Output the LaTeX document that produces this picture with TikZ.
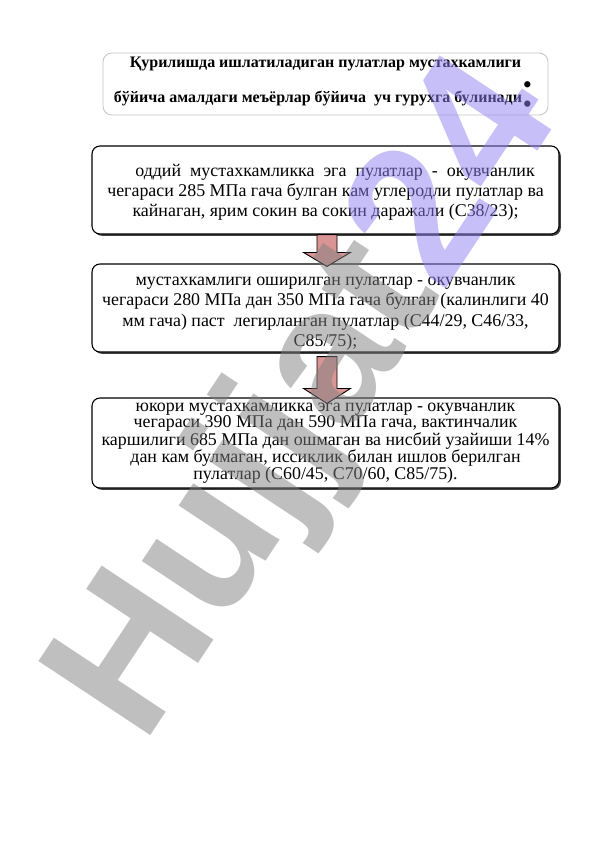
\documentclass[tikz,border=0pt]{standalone}
\usepackage{fontspec}
\setmainfont{Liberation Serif}
\newfontfamily\wmfont{Liberation Sans}
\usetikzlibrary{shadows,calc}
\definecolor{arrowfill}{HTML}{D99594}
\definecolor{wmgray}{HTML}{808080}
\definecolor{wmpurple}{HTML}{9182F2}
\definecolor{titleborder}{HTML}{C4C4C4}
\tikzset{
  titlebox/.style={draw=titleborder, line width=0.8pt, rounded corners=9pt, fill=white,
    minimum width=445pt, minimum height=62pt, inner sep=0pt, align=center,
    font=\bfseries\fontsize{16}{35}\selectfont},
  bigcolon/.style={inner sep=0pt, font=\fontsize{53}{53}\selectfont},
  stepbox/.style={draw=black, line width=1.1pt, rounded corners=8pt, fill=white,
    minimum width=467pt, inner sep=0pt, align=center,
    drop shadow={shadow xshift=1.8pt, shadow yshift=-1.8pt, fill=black!75, opacity=1}},
  boxfont/.style={font=\fontsize{17.9}{19.6}\selectfont},
  widefont/.style={font=\fontsize{17.9}{20.2}\selectfont},
  tightfont/.style={font=\fontsize{17.9}{16.3}\selectfont},
  blockarrow/.style={draw=black, line width=0.9pt, fill=arrowfill, line join=miter},
  watermark/.style={font=\wmfont\bfseries\fontsize{195}{195}\selectfont, inner sep=0pt,
    rotate=56.5, text opacity=0.5}
}
\newcommand{\wsp}{\hspace{9pt}}
\begin{document}
\begin{tikzpicture}[x=1pt,y=1pt]
\useasboundingbox (0,0) rectangle (596,-842);
\fill[white] (0,0) rectangle (596,-842);

\node[titlebox] (title) at (325.5,-84) {Қурилишда ишлатиладиган пулатлар мустахкамлиги\\
бўйича амалдаги меъёрлар бўйича\ \ уч гурухга булинади\hspace*{15pt}\rule[-9pt]{0pt}{9pt}};
\node[bigcolon] (colon) at (528,-94.5) {:};

\node[stepbox, boxfont, minimum height=88pt] (b1) at (325.5,-190)
{\rule{0pt}{17pt}\hspace*{19pt}оддий\wsp мустахкамликка\wsp эга\wsp пулатлар\wsp -\wsp окувчанлик\\
чегараси 285 МПа гача булган кам углеродли пулатлар ва\\
кайнаган, ярим сокин ва сокин даражали (С38/23);};

\node[stepbox, widefont, minimum height=88pt] (b2) at (325.5,-308)
{\rule{0pt}{20pt}мустахкамлиги оширилган пулатлар - окувчанлик\\
чегараси 280 МПа дан 350 МПа гача булган (калинлиги 40\\
мм гача) паст\ \ легирланган пулатлар (С44/29, С46/33,\\
С85/75);};

\node[stepbox, tightfont, minimum height=90pt] (b3) at (325.5,-443)
{юкори мустахкамликка эга пулатлар - окувчанлик\\
чегараси 390 МПа дан 590 МПа гача, вактинчалик\\
каршилиги 685 МПа дан ошмаган ва нисбий узайиши 14\%\\
дан кам булмаган, иссиклик билан ишлов берилган\\
пулатлар (С60/45, С70/60, С85/75).};

% block arrows between boxes
\coordinate (a1s) at ($(b1.south)+(1.5,0)$);
\coordinate (a1e) at ($(b2.north)+(1.5,-3)$);
\draw[blockarrow] ($(a1s)+(-10,0)$) -- ($(a1e)+(-10,14)$) -- ($(a1e)+(-23.5,14)$) -- (a1e)
  -- ($(a1e)+(23.5,14)$) -- ($(a1e)+(10,14)$) -- ($(a1s)+(10,0)$) -- cycle;
\coordinate (a2s) at ($(b2.south)+(1.5,-4)$);
\coordinate (a2e) at ($(b3.north)+(1.5,-6)$);
\draw[blockarrow] ($(a2s)+(-10,0)$) -- ($(a2e)+(-10,15)$) -- ($(a2e)+(-23.5,15)$) -- (a2e)
  -- ($(a2e)+(23.5,15)$) -- ($(a2e)+(10,15)$) -- ($(a2s)+(10,0)$) -- cycle;

% watermark
\node[watermark] (wm) at (311,-402) {\textcolor{wmgray}{Hujjat}\textcolor{wmpurple}{24}};
\end{tikzpicture}
\end{document}
